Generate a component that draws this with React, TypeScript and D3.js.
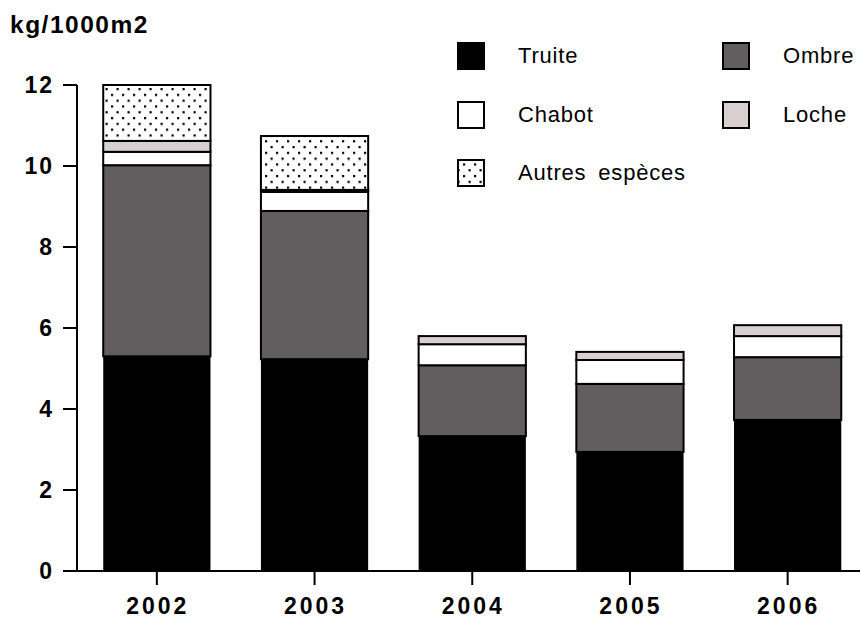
import React from "react";
import * as d3 from "d3";

const years = ["2002", "2003", "2004", "2005", "2006"];
const truite = [5.3, 5.23, 3.33, 2.94, 3.73];
const ombre = [4.72, 3.66, 1.75, 1.68, 1.55];
const chabot = [0.33, 0.47, 0.52, 0.59, 0.52];
const loche = [0.27, 0.05, 0.2, 0.2, 0.27];
const autres = [1.38, 1.33, 0, 0, 0];
const yTicks = [0, 2, 4, 6, 8, 10, 12];

const seriesNames = ["Truite", "Ombre", "Chabot", "Loche", "Autres espèces"];
const seriesFills = ["#000000", "#625d5e", "#ffffff", "#d8d0d0", "url(#dots)"];

const width = 860;
const height = 618;
const margin = { left: 77, right: 0, top: 85, bottom: 47 };

const App = () => {
  const rows = years.map((y, i) => ({
    year: y,
    s0: truite[i],
    s1: ombre[i],
    s2: chabot[i],
    s3: loche[i],
    s4: autres[i],
  }));
  const stack = d3.stack().keys(["s0", "s1", "s2", "s3", "s4"]);
  const stacked = stack(rows as any);

  const xScale = d3
    .scaleBand()
    .domain(years)
    .range([margin.left + 1, margin.left + 1 + 5 * 157.7])
    .paddingInner(0.32)
    .paddingOuter(0.16);

  const yScale = d3
    .scaleLinear()
    .domain([0, 12])
    .range([height - margin.bottom, margin.top]);

  const y0 = yScale(0);
  const font = "'Liberation Sans', Arial, sans-serif";

  const legend = [
    { i: 0, x: 457, y: 42 },
    { i: 1, x: 722, y: 42 },
    { i: 2, x: 457, y: 101 },
    { i: 3, x: 722, y: 101 },
    { i: 4, x: 457, y: 159 },
  ];

  return (
    <svg
      width={width}
      height={height}
      style={{ position: "absolute", left: 0, top: 0, background: "#fff" }}
    >
      <defs>
        <pattern id="dots" width={11} height={11.6} patternUnits="userSpaceOnUse">
          <rect width={11} height={11.6} fill="#fff" />
          <rect x={1} y={1} width={2.2} height={2.2} fill="#000" />
          <rect x={6.5} y={6.8} width={2.2} height={2.2} fill="#000" />
        </pattern>
      </defs>

      {/* Bars */}
      {stacked.map((layer, li) => (
        <g key={li}>
          {layer.map((d, i) =>
            d[1] - d[0] > 0 ? (
              <rect
                key={i}
                x={xScale(years[i])!}
                y={yScale(d[1])}
                width={xScale.bandwidth()}
                height={yScale(d[0]) - yScale(d[1])}
                fill={seriesFills[li]}
                stroke="#000"
                strokeWidth={li === 0 ? 0 : 2}
              />
            ) : null
          )}
        </g>
      ))}

      {/* Y axis */}
      <line x1={margin.left} x2={margin.left} y1={margin.top} y2={y0 + 1} stroke="#000" strokeWidth={2} />
      {yTicks.map((t) => (
        <g key={t}>
          <line x1={63} x2={margin.left} y1={yScale(t)} y2={yScale(t)} stroke="#000" strokeWidth={2} />
          <text
            x={54}
            y={yScale(t) + 8}
            textAnchor="end"
            fontFamily={font}
            fontWeight="bold"
            fontSize="23px"
            letterSpacing="2"
          >
            {t}
          </text>
        </g>
      ))}

      {/* X axis */}
      <line x1={margin.left} x2={width} y1={y0} y2={y0} stroke="#000" strokeWidth={2} />
      {years.map((yr) => {
        const cx = xScale(yr)! + xScale.bandwidth() / 2;
        return (
          <g key={yr}>
            <line x1={cx} x2={cx} y1={y0} y2={y0 + 14} stroke="#000" strokeWidth={2} />
            <text
              x={cx + 1}
              y={614}
              textAnchor="middle"
              fontFamily={font}
              fontWeight="bold"
              fontSize="23px"
              letterSpacing="3"
            >
              {yr}
            </text>
          </g>
        );
      })}

      {/* Unit label */}
      <text x={10} y={33} fontFamily={font} fontWeight="bold" fontSize="24.5px" letterSpacing="1.5">
        kg/1000m2
      </text>

      {/* Legend */}
      {legend.map((l) => (
        <g key={l.i}>
          <rect
            x={l.x + 1}
            y={l.y + 1}
            width={26}
            height={26}
            fill={seriesFills[l.i]}
            stroke="#000"
            strokeWidth={2}
          />
          <text
            x={l.x + 61}
            y={l.y + 21}
            fontFamily={font}
            fontSize="22px"
            letterSpacing="0.8"
            wordSpacing="5"
          >
            {seriesNames[l.i]}
          </text>
        </g>
      ))}
    </svg>
  );
};

export default App;
